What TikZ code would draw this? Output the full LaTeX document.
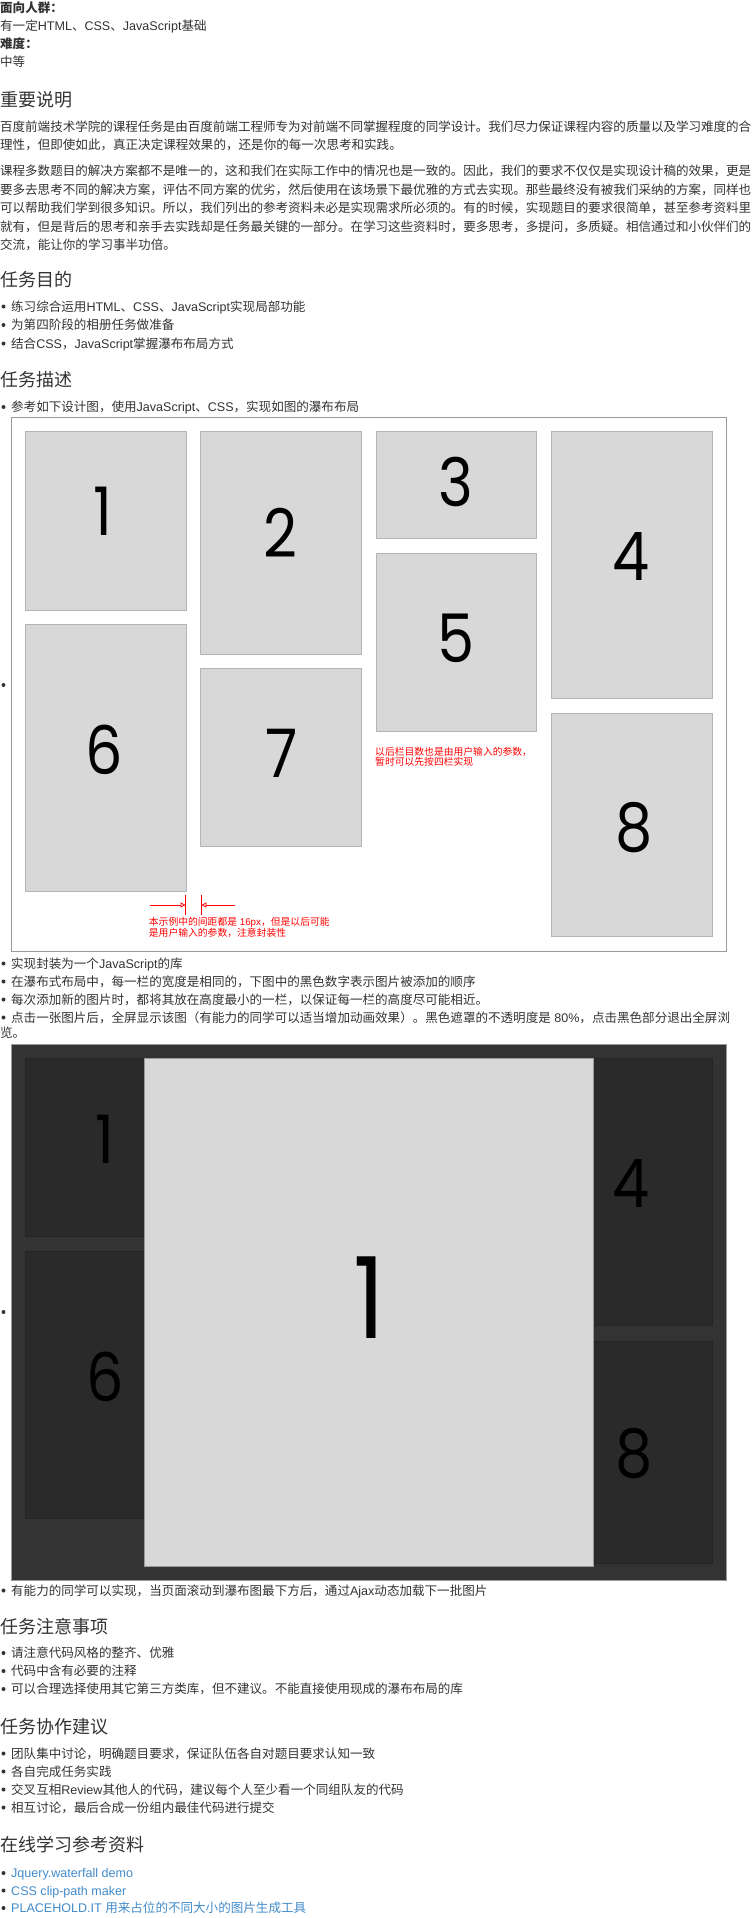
\documentclass[tikz,border=0pt]{standalone}
\usepackage{fontspec}
\usepackage{graphicx}
\usetikzlibrary{arrows.meta}
\setmainfont{Liberation Sans}
\newfontfamily\latfont{Liberation Sans}
\newfontfamily\cjkfont{Noto Sans CJK SC}
\newfontfamily\digitfont{Poppins}
\newcommand\dg[1]{\scalebox{0.88}[1]{#1}}
\definecolor{txt}{HTML}{333333}
\definecolor{redc}{HTML}{FF0000}
\definecolor{linkc}{HTML}{428BCA}
\definecolor{boxg}{HTML}{D8D8D8}
\definecolor{boxline}{HTML}{B5B5B5}
\definecolor{frameg}{HTML}{9A9A9A}
\definecolor{darkbg}{HTML}{333333}
\definecolor{darkbox}{HTML}{2A2A2A}
\definecolor{darkline}{HTML}{242424}
\chardef\cjkcls=101
\newcount\tmpc
\tmpc="4E00
\loop\XeTeXcharclass\tmpc=\cjkcls\advance\tmpc by 1\ifnum\tmpc<"A000 \repeat
\tmpc="3000
\loop\XeTeXcharclass\tmpc=\cjkcls\advance\tmpc by 1\ifnum\tmpc<"3040 \repeat
\tmpc="FF00
\loop\XeTeXcharclass\tmpc=\cjkcls\advance\tmpc by 1\ifnum\tmpc<"FFF0 \repeat
\def\cjkglue{\hskip0pt plus 3pt minus 0.6pt\relax}
\XeTeXinterchartoks 0 \cjkcls = {\cjkfont}
\XeTeXinterchartoks 4095 \cjkcls = {\cjkfont}
\XeTeXinterchartoks \cjkcls 0 = {\latfont}
\XeTeXinterchartoks \cjkcls 4095 = {\latfont}
\XeTeXinterchartoks \cjkcls \cjkcls = {\cjkglue}
\XeTeXinterchartokenstate=1
\tikzset{
  body/.style={anchor=base west, inner sep=0pt, text=txt, font=\fontsize{12.55}{15}\selectfont},
  boldl/.style={body, font=\fontsize{12.55}{15}\selectfont\bfseries},
  head/.style={anchor=base west, inner sep=0pt, text=txt, font=\fontsize{18}{22}\selectfont},
  linkl/.style={body, text=linkc},
  note/.style={anchor=base west, inner sep=0pt, text=redc, font=\fontsize{9.8}{11}\selectfont},
  bdot/.style={circle, fill=txt, draw=none, inner sep=0pt, minimum size=4pt},
  pbox/.style={fill=boxg, draw=boxline, line width=1pt},
  dbox/.style={fill=darkbox, draw=darkline, line width=1pt},
  dig/.style={inner sep=0pt, text=black, font=\digitfont\fontsize{67}{67}\selectfont},
  bigdig/.style={inner sep=0pt, text=black, font=\digitfont\fontsize{113}{113}\selectfont},
  redl/.style={draw=redc, line width=0.8pt},
  redarr/.style={redl, -{Triangle[open, length=5pt, width=5pt]}}
}
\begin{document}
\begin{tikzpicture}[x=1pt,y=-1pt]
\fill[white] (0,0) rectangle (752,1918);
\useasboundingbox (0,0) rectangle (752,1918);

% top info
\node[boldl] (aud) at (0,12.2) {面向人群：};
\node[body] (audv) at (0,30.7) {有一定HTML、CSS、JavaScript基础};
\node[boldl] (dif) at (0,48.7) {难度：};
\node[body] (difv) at (0,66.7) {中等};

% important
\node[head] (h1) at (0,106.8) {重要说明};
\node[body] (p1a) at (0,131.2) {\hbox to 751pt{百度前端技术学院的课程任务是由百度前端工程师专为对前端不同掌握程度的同学设计。我们尽力保证课程内容的质量以及学习难度的合}};
\node[body] (p1b) at (0,149.7) {理性，但即使如此，真正决定课程效果的，还是你的每一次思考和实践。};
\node[body] (p2a) at (0,175.7) {\hbox to 751pt{课程多数题目的解决方案都不是唯一的，这和我们在实际工作中的情况也是一致的。因此，我们的要求不仅仅是实现设计稿的效果，更是}};
\node[body] (p2b) at (0,194.2) {\hbox to 751pt{要多去思考不同的解决方案，评估不同方案的优劣，然后使用在该场景下最优雅的方式去实现。那些最终没有被我们采纳的方案，同样也}};
\node[body] (p2c) at (0,212.7) {\hbox to 751pt{可以帮助我们学到很多知识。所以，我们列出的参考资料未必是实现需求所必须的。有的时候，实现题目的要求很简单，甚至参考资料里}};
\node[body] (p2d) at (0,231.2) {\hbox to 751pt{就有，但是背后的思考和亲手去实践却是任务最关键的一部分。在学习这些资料时，要多思考，多提问，多质疑。相信通过和小伙伴们的}};
\node[body] (p2e) at (0,249.7) {交流，能让你的学习事半功倍。};

% goals
\node[head] (h2) at (0,286.8) {任务目的};
\node[bdot] (g1d) at (3.5,306.5) {};
\node[body] (g1) at (11,311.2) {练习综合运用HTML、CSS、JavaScript实现局部功能};
\node[bdot] (g2d) at (3.5,325) {};
\node[body] (g2) at (11,329.7) {为第四阶段的相册任务做准备};
\node[bdot] (g3d) at (3.5,343.5) {};
\node[body] (g3) at (11,348.2) {结合CSS，JavaScript掌握瀑布布局方式};

% description
\node[head] (h3) at (0,386.8) {任务描述};
\node[bdot] (s1d) at (3.5,407) {};
\node[body] (s1) at (11,411.7) {参考如下设计图，使用JavaScript、CSS，实现如图的瀑布布局};

% figure 1
\node[bdot] (f1d) at (3.5,685) {};
\draw[frameg, line width=1pt, fill=white] (11.5,417) rectangle (726,951.5);
\draw[pbox] (25,431.3) rectangle (186,610);
\draw[pbox] (200.5,431.3) rectangle (361,654.3);
\draw[pbox] (376,431.3) rectangle (536,538.3);
\draw[pbox] (551,431.3) rectangle (712,698.3);
\draw[pbox] (376,553.3) rectangle (536,731);
\draw[pbox] (25,624.3) rectangle (186,891.7);
\draw[pbox] (200.5,668.7) rectangle (361,846.7);
\draw[pbox] (551,713.7) rectangle (712,936.7);
\node[dig] (n1) at (103,511.7) {\dg{1}};
\node[dig] (n2) at (280.6,533.3) {\dg{2}};
\node[dig] (n3) at (455.6,482) {\dg{3}};
\node[dig] (n4) at (630.7,556.7) {\dg{4}};
\node[dig] (n5) at (455.6,638.3) {\dg{5}};
\node[dig] (n6) at (104.6,750) {\dg{6}};
\node[dig] (n7) at (281.5,753.3) {\dg{7}};
\node[dig] (n8) at (634,827.8) {\dg{8}};
\node[note] (r1a) at (375,755.4) {以后栏目数也是由用户输入的参数，};
\node[note] (r1b) at (375,765.7) {暂时可以先按四栏实现};
\coordinate (ta1) at (185.6,895);
\coordinate (ta2) at (185.6,915);
\coordinate (tb1) at (201.4,895);
\coordinate (tb2) at (201.4,915);
\coordinate (al) at (150,905);
\coordinate (alt) at (185.6,905);
\coordinate (ar) at (235,905);
\coordinate (art) at (201.4,905);
\draw[redl] (ta1) -- (ta2);
\draw[redl] (tb1) -- (tb2);
\draw[redarr] (al) -- (alt);
\draw[redarr] (ar) -- (art);
\node[note] (r2a) at (148.7,925.7) {本示例中的间距都是 16px，但是以后可能};
\node[note] (r2b) at (148.7,936.4) {是用户输入的参数，注意封装性};

% more bullets
\node[bdot] (m1d) at (3.5,963.5) {};
\node[body] (m1) at (11,968.2) {实现封装为一个JavaScript的库};
\node[bdot] (m2d) at (3.5,981.5) {};
\node[body] (m2) at (11,986.2) {在瀑布式布局中，每一栏的宽度是相同的，下图中的黑色数字表示图片被添加的顺序};
\node[bdot] (m3d) at (3.5,999.5) {};
\node[body] (m3) at (11,1004.2) {每次添加新的图片时，都将其放在高度最小的一栏，以保证每一栏的高度尽可能相近。};
\node[bdot] (m4d) at (3.5,1017.5) {};
\node[body] (m4) at (11,1022.2) {点击一张图片后，全屏显示该图（有能力的同学可以适当增加动画效果）。黑色遮罩的不透明度是 80\%，点击黑色部分退出全屏浏};
\node[body] (m4b) at (0,1037.7) {览。};

% dark figure
\node[bdot] (f2d) at (3.5,1312) {};
\draw[frameg, line width=1pt, fill=darkbg] (11.5,1044.3) rectangle (726.5,1580);
\draw[dbox] (25,1058.7) rectangle (186,1236.7);
\draw[dbox] (25,1251) rectangle (186,1518.3);
\draw[dbox] (551,1058.7) rectangle (712,1325.7);
\draw[dbox] (551,1341) rectangle (712,1563.3);
\node[dig] (d1) at (104.6,1138.8) {\dg{1}};
\node[dig] (d6) at (105.5,1376.7) {\dg{6}};
\node[dig] (d4) at (630.7,1184) {\dg{4}};
\node[dig] (d8) at (634,1454) {\dg{8}};
\draw[fill=boxg, draw=frameg, line width=1pt] (144.4,1058.7) rectangle (593.8,1566);
\node[bigdig] (big1) at (369,1297.7) {\dg{1}};

% after
\node[bdot] (a1d) at (3.5,1590.5) {};
\node[body] (a1) at (11,1595.2) {有能力的同学可以实现，当页面滚动到瀑布图最下方后，通过Ajax动态加载下一批图片};

\node[head] (h4) at (0,1633.8) {任务注意事项};
\node[bdot] (c1d) at (3.5,1653) {};
\node[body] (c1) at (11,1657.7) {请注意代码风格的整齐、优雅};
\node[bdot] (c2d) at (3.5,1671) {};
\node[body] (c2) at (11,1675.7) {代码中含有必要的注释};
\node[bdot] (c3d) at (3.5,1689) {};
\node[body] (c3) at (11,1693.7) {可以合理选择使用其它第三方类库，但不建议。不能直接使用现成的瀑布布局的库};

\node[head] (h5) at (0,1733.8) {任务协作建议};
\node[bdot] (k1d) at (3.5,1753.5) {};
\node[body] (k1) at (11,1758.2) {团队集中讨论，明确题目要求，保证队伍各自对题目要求认知一致};
\node[bdot] (k2d) at (3.5,1771.5) {};
\node[body] (k2) at (11,1776.2) {各自完成任务实践};
\node[bdot] (k3d) at (3.5,1789.5) {};
\node[body] (k3) at (11,1794.2) {交叉互相Review其他人的代码，建议每个人至少看一个同组队友的代码};
\node[bdot] (k4d) at (3.5,1807.5) {};
\node[body] (k4) at (11,1812.2) {相互讨论，最后合成一份组内最佳代码进行提交};

\node[head] (h6) at (0,1851.8) {在线学习参考资料};
\node[bdot] (l1d) at (3.5,1873) {};
\node[linkl] (l1) at (11,1877.7) {Jquery.waterfall demo};
\node[bdot] (l2d) at (3.5,1890.5) {};
\node[linkl] (l2) at (11,1895.2) {CSS clip-path maker};
\node[bdot] (l3d) at (3.5,1908) {};
\node[linkl] (l3) at (11,1912.7) {PLACEHOLD.IT 用来占位的不同大小的图片生成工具};
\end{tikzpicture}
\end{document}
